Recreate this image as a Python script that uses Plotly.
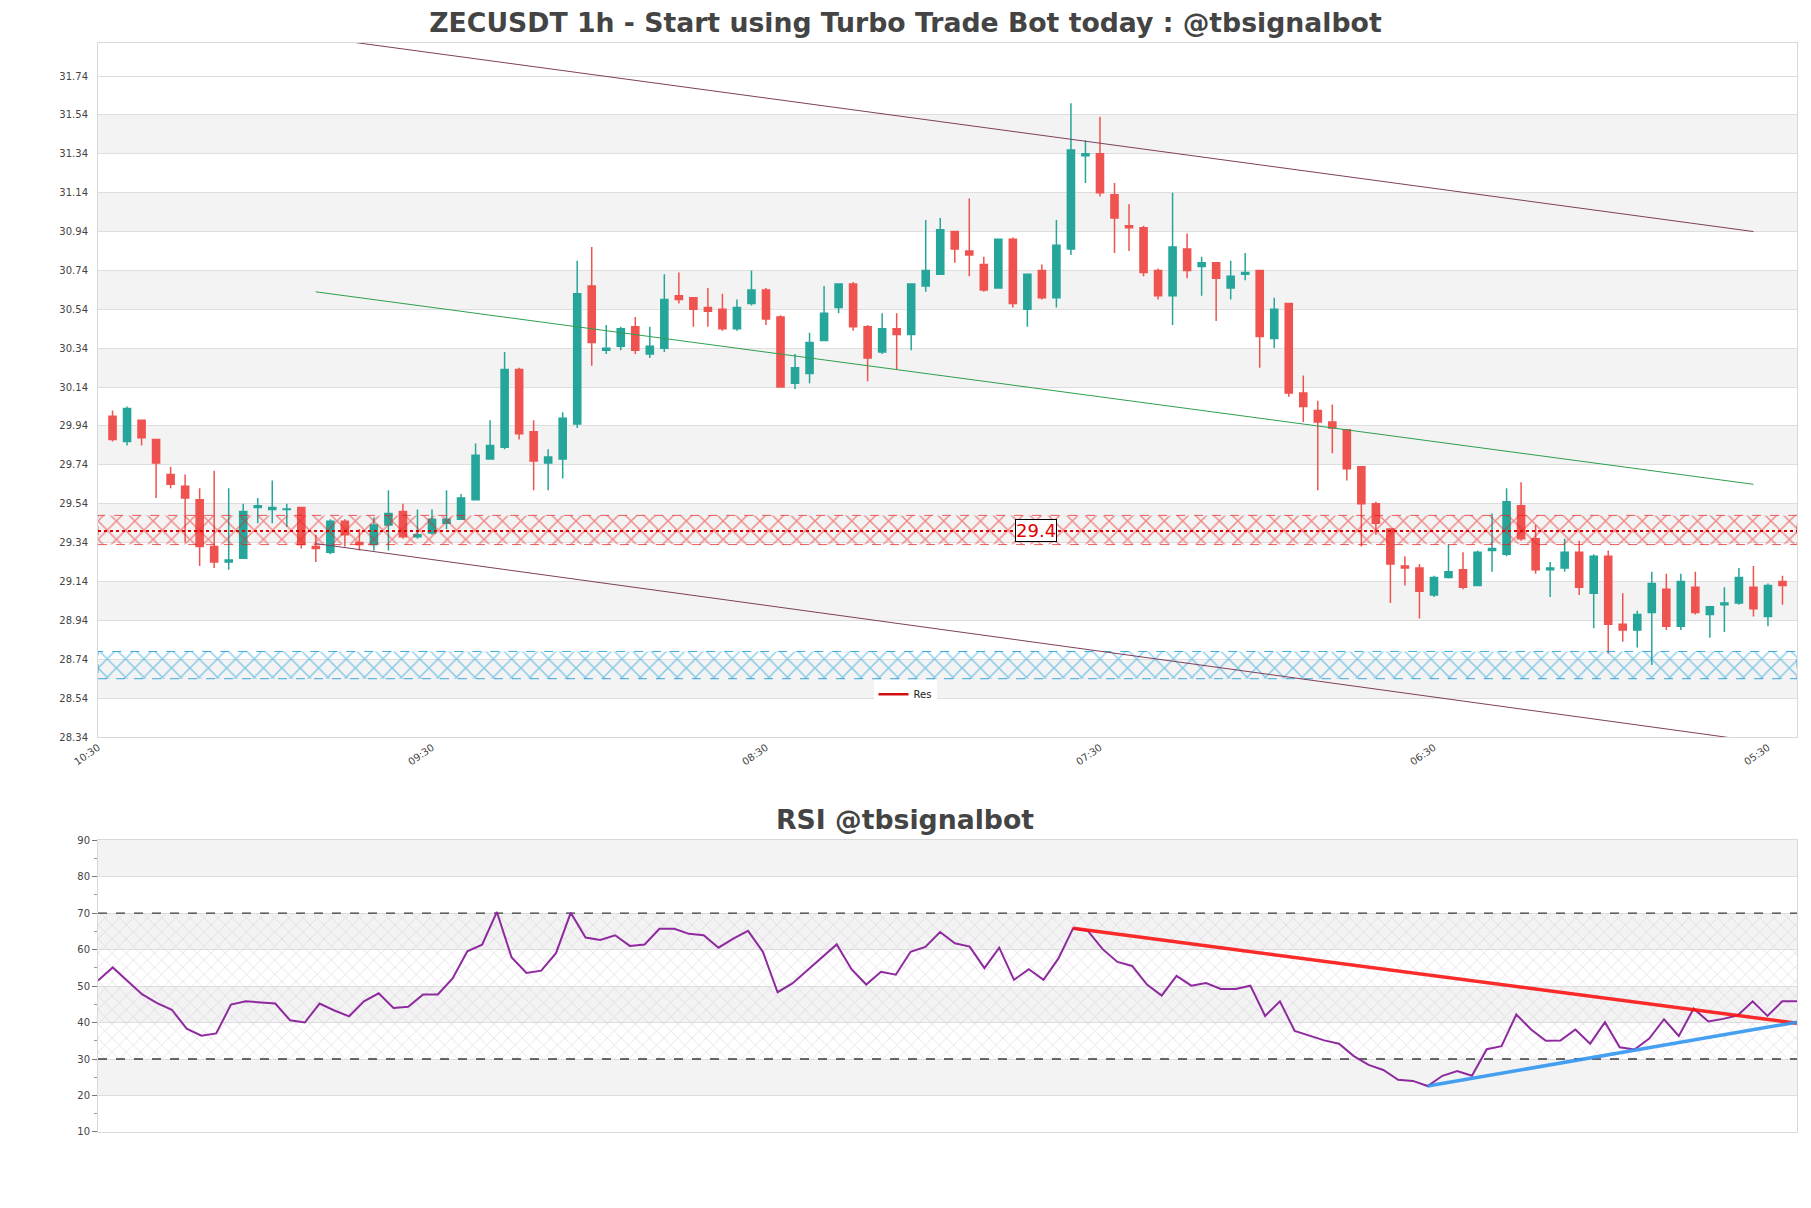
import plotly.graph_objects as go
from plotly.subplots import make_subplots

UP = "#26a69a"
DOWN = "#ef5350"
BAND = "#f3f3f3"
GRID = "#dedede"
TXT = "#444444"
FONT = "DejaVu Sans"

# hourly candles, oldest first
opens = [29.99, 29.86, 29.97, 29.87, 29.69, 29.63, 29.56, 29.32, 29.24, 29.26,
         29.52, 29.51, 29.51, 29.52, 29.32, 29.29, 29.45, 29.34, 29.33, 29.43,
         29.50, 29.37, 29.39, 29.44, 29.46, 29.56, 29.77, 29.83, 30.23, 29.91,
         29.75, 29.77, 29.95, 30.66, 30.33, 30.35, 30.45, 30.31, 30.34, 30.61,
         30.60, 30.55, 30.54, 30.44, 30.57, 30.64, 30.50, 30.16, 30.21, 30.38,
         30.55, 30.67, 30.45, 30.32, 30.44, 30.41, 30.66, 30.72, 30.94, 30.84,
         30.77, 30.65, 30.90, 30.54, 30.74, 30.60, 30.85, 31.33, 31.34, 31.13,
         30.97, 30.96, 30.74, 30.61, 30.85, 30.76, 30.78, 30.65, 30.72, 30.74,
         30.39, 30.57, 30.11, 30.02, 29.96, 29.92, 29.73, 29.54, 29.41, 29.22,
         29.21, 29.07, 29.16, 29.20, 29.12, 29.30, 29.28, 29.53, 29.36, 29.20,
         29.21, 29.29, 29.08, 29.27, 28.92, 28.89, 28.98, 29.10, 28.91, 29.11,
         28.97, 29.02, 29.03, 29.11, 28.96, 29.14]
highs = [30.02, 30.04, 29.97, 29.87, 29.73, 29.69, 29.62, 29.71, 29.62, 29.54,
         29.57, 29.66, 29.54, 29.52, 29.38, 29.46, 29.46, 29.41, 29.47, 29.61,
         29.54, 29.51, 29.51, 29.61, 29.59, 29.85, 29.97, 30.32, 30.24, 29.97,
         29.82, 30.01, 30.79, 30.86, 30.46, 30.45, 30.50, 30.45, 30.72, 30.73,
         30.60, 30.65, 30.62, 30.59, 30.74, 30.65, 30.51, 30.31, 30.42, 30.66,
         30.67, 30.68, 30.46, 30.52, 30.52, 30.67, 31.00, 31.01, 30.94, 31.11,
         30.81, 30.90, 30.91, 30.72, 30.77, 31.00, 31.60, 31.41, 31.53, 31.19,
         31.08, 30.97, 30.75, 31.14, 30.93, 30.81, 30.78, 30.79, 30.83, 30.74,
         30.60, 30.57, 30.20, 30.07, 30.05, 29.92, 29.73, 29.55, 29.41, 29.27,
         29.23, 29.17, 29.33, 29.29, 29.30, 29.49, 29.62, 29.65, 29.43, 29.24,
         29.36, 29.35, 29.28, 29.30, 29.08, 28.99, 29.19, 29.18, 29.18, 29.19,
         29.01, 29.11, 29.21, 29.22, 29.13, 29.17]
lows = [29.86, 29.84, 29.84, 29.57, 29.62, 29.34, 29.22, 29.21, 29.20, 29.26,
        29.44, 29.44, 29.42, 29.31, 29.24, 29.28, 29.32, 29.30, 29.30, 29.30,
        29.36, 29.36, 29.38, 29.41, 29.46, 29.56, 29.77, 29.82, 29.87, 29.61,
        29.61, 29.67, 29.93, 30.25, 30.31, 30.33, 30.31, 30.29, 30.32, 30.57,
        30.45, 30.45, 30.43, 30.43, 30.56, 30.46, 30.14, 30.13, 30.16, 30.38,
        30.52, 30.43, 30.17, 30.31, 30.23, 30.33, 30.63, 30.72, 30.78, 30.71,
        30.63, 30.65, 30.55, 30.45, 30.59, 30.55, 30.82, 31.19, 31.12, 30.83,
        30.84, 30.71, 30.59, 30.46, 30.70, 30.61, 30.48, 30.59, 30.69, 30.24,
        30.34, 30.09, 29.96, 29.61, 29.80, 29.66, 29.32, 29.38, 29.03, 29.12,
        28.95, 29.06, 29.155, 29.10, 29.12, 29.19, 29.27, 29.35, 29.18, 29.06,
        29.19, 29.07, 28.90, 28.77, 28.83, 28.80, 28.71, 28.89, 28.89, 28.97,
        28.85, 28.88, 29.02, 28.96, 28.91, 29.02]
closes = [29.87, 30.03, 29.88, 29.75, 29.64, 29.57, 29.32, 29.24, 29.25, 29.50,
          29.53, 29.52, 29.513, 29.33, 29.31, 29.45, 29.38, 29.33, 29.43, 29.49,
          29.37, 29.38, 29.46, 29.46, 29.57, 29.79, 29.84, 30.23, 29.90, 29.76,
          29.78, 29.98, 30.62, 30.37, 30.34, 30.44, 30.33, 30.35, 30.59, 30.59,
          30.54, 30.53, 30.44, 30.55, 30.64, 30.49, 30.14, 30.24, 30.37, 30.52,
          30.67, 30.45, 30.29, 30.44, 30.41, 30.67, 30.74, 30.95, 30.85, 30.82,
          30.64, 30.90, 30.57, 30.72, 30.60, 30.87, 31.36, 31.34, 31.14, 31.01,
          30.96, 30.73, 30.61, 30.86, 30.74, 30.78, 30.70, 30.71, 30.73, 30.40,
          30.54, 30.11, 30.04, 29.96, 29.93, 29.72, 29.54, 29.44, 29.23, 29.21,
          29.09, 29.16, 29.19, 29.11, 29.29, 29.31, 29.55, 29.36, 29.20, 29.21,
          29.29, 29.11, 29.27, 28.92, 28.89, 28.97, 29.13, 28.91, 29.14, 28.98,
          29.01, 29.03, 29.16, 29.00, 29.12, 29.12]

rsi = [51.5, 55.1, 51.4, 47.7, 45.3, 43.5, 38.3, 36.4, 37.0, 44.9,
       45.8, 45.6, 45.2, 40.6, 40.0, 45.2, 43.3, 41.7, 45.8, 48.0,
       44.0, 44.3, 47.7, 47.7, 52.1, 59.5, 61.3, 70.3, 57.8, 53.6,
       54.2, 59.0, 70.1, 63.3, 62.6, 63.9, 61.0, 61.4, 65.7, 65.7,
       64.3, 63.9, 60.5, 63.0, 65.1, 59.4, 48.3, 50.7, 54.2, 57.8,
       61.4, 54.6, 50.4, 53.9, 53.1, 59.4, 60.7, 64.8, 61.7, 60.8,
       54.9, 60.5, 51.7, 54.6, 51.7, 57.5, 65.8, 65.1, 60.1, 56.6,
       55.5, 50.4, 47.4, 52.8, 50.1, 50.8, 49.2, 49.2, 50.1, 41.8,
       45.8, 37.7, 36.3, 35.1, 34.2, 30.8, 28.4, 27.0, 24.3, 24.0,
       22.6, 25.4, 26.7, 25.4, 32.7, 33.5, 42.2, 38.1, 35.0, 35.1,
       38.1, 34.2, 40.1, 33.2, 32.6, 35.6, 40.9, 36.3, 43.8, 40.3,
       41.0, 42.0, 45.8, 41.8, 45.8, 45.8]

tick_pos = [-1, 22, 45, 68, 91, 114]
tick_text = ["10:30", "09:30", "08:30", "07:30", "06:30", "05:30"]
price_ticks = [28.34, 28.54, 28.74, 28.94, 29.14, 29.34, 29.54, 29.74, 29.94,
               30.14, 30.34, 30.54, 30.74, 30.94, 31.14, 31.34, 31.54, 31.74]
price_range = [28.34, 31.91]
rsi_ticks = [10, 20, 30, 40, 50, 60, 70, 80, 90]
rsi_minor = [15, 25, 35, 45, 55, 65, 75, 85]
rsi_levels = [30, 70]

res_level = 29.4
res_zone = [29.33, 29.48]
sup_zone = [28.64, 28.78]

channel_x = [14, 113]
channel_upper = [31.94, 30.94]
channel_mid = [30.63, 29.64]
channel_lower = [29.335, 28.32]

rsi_down_x = [66, 115]
rsi_down_y = [65.8, 39.8]
rsi_up_x = [90, 115]
rsi_up_y = [22.6, 40.1]

n = len(opens)
xs = list(range(n))
x_lo, x_hi = -1, n

fig = make_subplots(rows=2, cols=1)


def zone(y0, y1, color, edge):
    # hatched horizontal zone spanning the visible x range
    return go.Scatter(x=[x_lo, x_hi, x_hi, x_lo, x_lo], y=[y0, y0, y1, y1, y0],
                      mode="lines", fill="toself", fillcolor="rgba(0,0,0,0)",
                      fillpattern=dict(shape="x", fgcolor=color, bgcolor="rgba(255,255,255,0)",
                                       size=13, solidity=0.22),
                      line=dict(color=edge, width=1, dash="dash"),
                      hoverinfo="skip", showlegend=False)


fig.add_trace(zone(res_zone[0], res_zone[1], "#ee2222", "rgba(230,30,30,0.7)"), row=1, col=1)
fig.add_trace(zone(sup_zone[0], sup_zone[1], "#1a9fdc", "rgba(20,150,215,0.8)"), row=1, col=1)

fig.add_trace(go.Scatter(x=[x_lo, x_hi], y=[res_level, res_level], mode="lines",
                         line=dict(color="#e00000", width=2, dash="dot"),
                         showlegend=False, hoverinfo="skip"),
              row=1, col=1)
# legend entry for the resistance level
fig.add_trace(go.Scatter(x=[None], y=[None], mode="lines", name="Res",
                         line=dict(color="#d01010", width=2.5)), row=1, col=1)

fig.add_trace(go.Candlestick(x=xs, open=opens, high=highs, low=lows, close=closes,
                             increasing=dict(line=dict(color=UP, width=1.5), fillcolor=UP),
                             decreasing=dict(line=dict(color=DOWN, width=1.5), fillcolor=DOWN),
                             whiskerwidth=0, showlegend=False),
              row=1, col=1)

for ys, col in [(channel_upper, "#7e3f5e"), (channel_mid, "#2f9e50"), (channel_lower, "#7e3f5e")]:
    fig.add_trace(go.Scatter(x=channel_x, y=ys, mode="lines", line=dict(color=col, width=1),
                             showlegend=False, hoverinfo="skip"), row=1, col=1)

# RSI panel
rx = list(range(len(rsi)))
fig.add_trace(go.Scatter(x=[rx[0], rx[-1], rx[-1], rx[0], rx[0]],
                         y=[rsi_levels[0], rsi_levels[0], rsi_levels[1], rsi_levels[1], rsi_levels[0]],
                         mode="lines", fill="toself", fillcolor="rgba(0,0,0,0)",
                         fillpattern=dict(shape="x", fgcolor="#cdb8d2",
                                          bgcolor="rgba(255,255,255,0)", size=10, solidity=0.15),
                         line=dict(width=0), hoverinfo="skip", showlegend=False),
              row=2, col=1)
for lv in rsi_levels:
    fig.add_trace(go.Scatter(x=[rx[0], rx[-1]], y=[lv, lv], mode="lines",
                             line=dict(color="#3a3a3a", width=1.3, dash="dash"),
                             showlegend=False, hoverinfo="skip"), row=2, col=1)
fig.add_trace(go.Scatter(x=rx, y=rsi, mode="lines", line=dict(color="#8e2a9e", width=2),
                         showlegend=False), row=2, col=1)
fig.add_trace(go.Scatter(x=rsi_down_x, y=rsi_down_y, mode="lines",
                         line=dict(color="rgba(250,20,20,0.9)", width=3.5), showlegend=False),
              row=2, col=1)
fig.add_trace(go.Scatter(x=rsi_up_x, y=rsi_up_y, mode="lines",
                         line=dict(color="rgba(50,150,240,0.9)", width=3.5), showlegend=False),
              row=2, col=1)

# alternating background bands
shapes = []
for i in range(1, len(price_ticks) - 1, 2):
    shapes.append(dict(type="rect", xref="x domain", yref="y", x0=0, x1=1,
                       y0=price_ticks[i], y1=price_ticks[i + 1],
                       fillcolor=BAND, line=dict(width=0), layer="below"))
for i in range(1, len(rsi_ticks) - 1, 2):
    shapes.append(dict(type="rect", xref="x2 domain", yref="y2", x0=0, x1=1,
                       y0=rsi_ticks[i], y1=rsi_ticks[i + 1],
                       fillcolor=BAND, line=dict(width=0), layer="below"))

fig.update_layout(
    width=1811, height=1208,
    margin=dict(l=98, r=14, t=43, b=76),
    paper_bgcolor="white", plot_bgcolor="white",
    font=dict(family=FONT, color=TXT, size=10),
    title=dict(text="<b>ZECUSDT 1h - Start using Turbo Trade Bot today : @tbsignalbot</b>",
               x=0.5, xanchor="center", y=0.981, yanchor="middle",
               font=dict(family=FONT, size=26.7, color=TXT)),
    shapes=shapes,
    showlegend=True,
    legend=dict(orientation="h", x=0.475, y=0.402, xanchor="center", yanchor="middle",
                bgcolor="white", font=dict(size=10, color="#222")),
    xaxis=dict(domain=[0, 1], range=[x_lo, x_hi], rangeslider=dict(visible=False),
               tickmode="array", tickvals=tick_pos, ticktext=tick_text, tickangle=-35,
               tickfont=dict(size=10), showgrid=False, zeroline=False,
               showline=True, mirror=True, linecolor="#d9d9d9"),
    yaxis=dict(domain=[0.3627, 1], range=price_range, tickmode="array",
               tickvals=price_ticks, tickformat=".2f", tickfont=dict(size=10),
               ticks="outside", ticklen=7, tickcolor="rgba(0,0,0,0)",
               gridcolor=GRID, zeroline=False, showline=True, mirror=True,
               linecolor="#d9d9d9"),
    xaxis2=dict(domain=[0, 1], range=[rx[0], rx[-1]], showticklabels=False,
                showgrid=False, zeroline=False, showline=True, mirror=True,
                linecolor="#d9d9d9"),
    yaxis2=dict(domain=[0, 0.2681], range=[rsi_ticks[0], rsi_ticks[-1]], tickmode="array",
                tickvals=rsi_ticks, tickfont=dict(size=10), ticks="outside", ticklen=5,
                tickcolor="#777", gridcolor=GRID, zeroline=False, showline=True,
                mirror=True, linecolor="#d9d9d9",
                minor=dict(tickmode="array", tickvals=rsi_minor, ticks="outside",
                           ticklen=3, tickcolor="#999", showgrid=False)),
)

fig.add_annotation(text="29.4", xref="x domain", yref="y", x=0.552, y=res_level,
                   showarrow=False, font=dict(size=18, color="#e00000", family=FONT),
                   bgcolor="white", bordercolor="black", borderwidth=1, borderpad=0)
fig.add_annotation(text="<b>RSI @tbsignalbot</b>", xref="paper", yref="paper",
                   x=0.475, y=0.2874, xanchor="center", yanchor="middle", showarrow=False,
                   font=dict(size=26.7, color=TXT, family=FONT))

fig.write_html("out.html", config={"displayModeBar": False},
               post_script="document.body.style.margin='0';")
